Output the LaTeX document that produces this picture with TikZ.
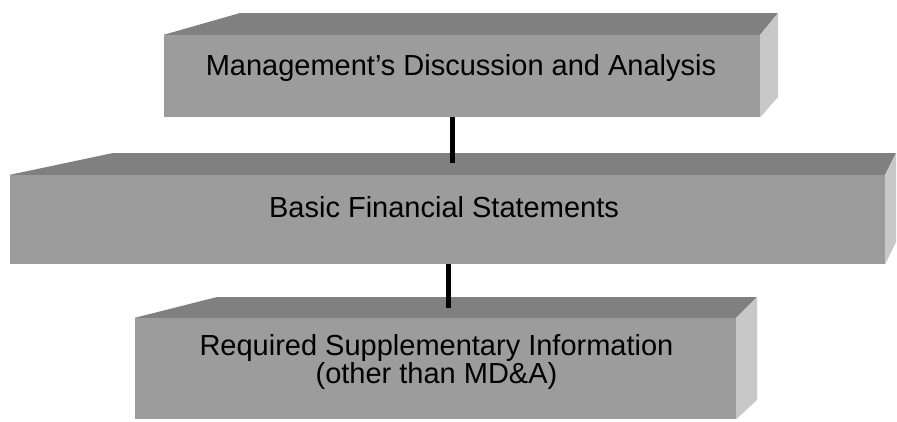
\documentclass[tikz,border=0pt]{standalone}
\usepackage{fontspec}
\setmainfont{Liberation Sans}
\definecolor{slabfront}{RGB}{156,156,156}
\definecolor{slabtop}{RGB}{128,128,128}
\definecolor{slabside}{RGB}{200,200,200}
\tikzset{
  slab/.style={fill=slabfront, inner sep=0pt},
  slabtext/.style={font=\fontsize{29}{28}\selectfont, align=center, inner sep=0pt},
  link/.style={line width=5pt},
}
\begin{document}
\begin{tikzpicture}[x=1pt,y=-1pt]
\useasboundingbox (0,0) rectangle (897,421);
\node[slab, minimum width=596pt, minimum height=82pt] (mda) at (462,76) {};
\fill[slabtop] (mda.north west) -- (240,13) -- (778,13) -- (mda.north east) -- cycle;
\fill[slabside] (mda.north east) -- (778,13) -- (778,97) -- (mda.south east) -- cycle;
\node[slab, minimum width=875pt, minimum height=89pt] (bfs) at (447.5,219.5) {};
\fill[slabtop] (bfs.north west) -- (113,153) -- (896,153) -- (bfs.north east) -- cycle;
\fill[slabside] (bfs.north east) -- (896,153) -- (896,242) -- (bfs.south east) -- cycle;
\node[slab, minimum width=601pt, minimum height=101pt] (rsi) at (435.5,368.5) {};
\fill[slabtop] (rsi.north west) -- (217,297) -- (757,297) -- (rsi.north east) -- cycle;
\fill[slabside] (rsi.north east) -- (757,297) -- (757,400) -- (rsi.south east) -- cycle;
\node[slabtext, anchor=base] (mdatext) at (461,75) {Management's Discussion and Analysis};
\node[slabtext, anchor=base] (bfstext) at (444,217) {Basic Financial Statements};
\node[slabtext, anchor=base] (rsitext) at (436.5,383) {Required Supplementary Information\\(other than MD\&A)};
\coordinate (bfsjoin) at (452.5,163);
\coordinate (rsijoin) at (448,308);
\draw[link] (bfsjoin |- mda.south) -- (bfsjoin);
\draw[link] (rsijoin |- bfs.south) -- (rsijoin);
\end{tikzpicture}
\end{document}
